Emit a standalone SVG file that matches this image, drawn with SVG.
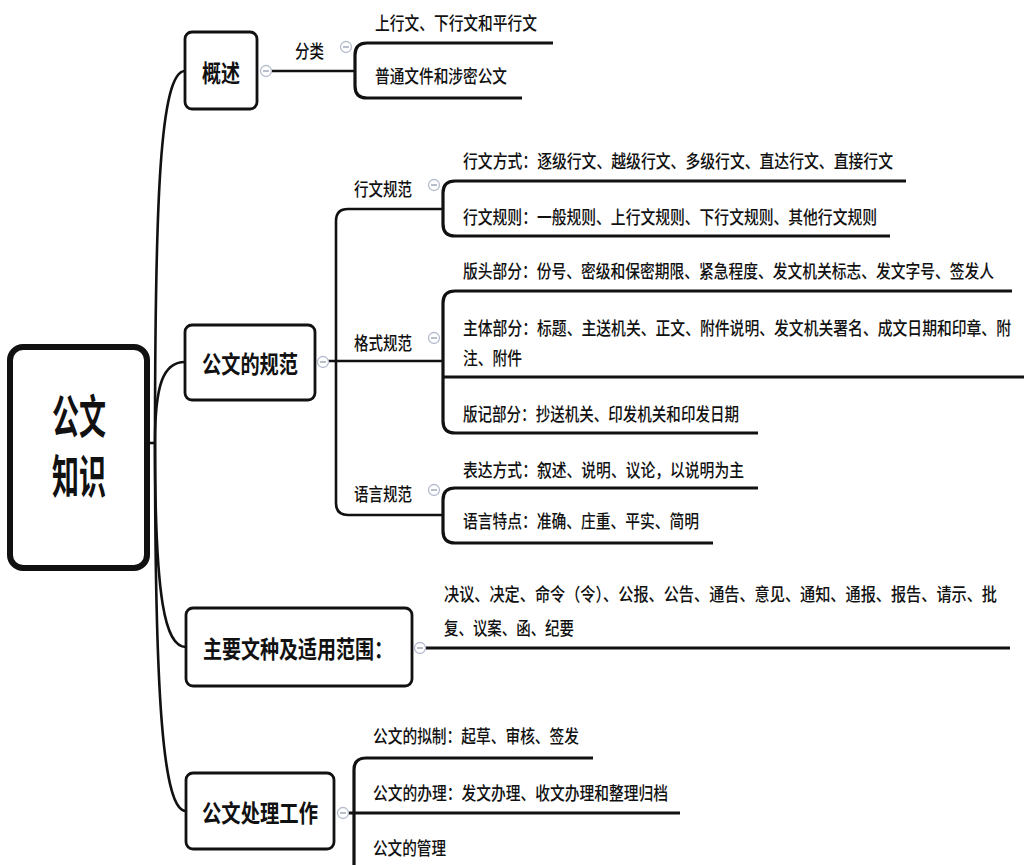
<svg xmlns="http://www.w3.org/2000/svg" width="1024" height="865" viewBox="0 0 1024 865">
<style>
text{font-family:"Noto Sans CJK SC","Noto Sans",sans-serif;fill:#111;dominant-baseline:central}
.leaf{font-size:15px;font-weight:500}
.l1{font-size:24px;font-weight:bold;text-anchor:middle}
.root{font-size:46px;font-weight:bold;text-anchor:middle}
.box{fill:#fff;stroke:#111;stroke-width:2.8}
.conn path{fill:none;stroke:#111;stroke-width:2.6}
.conn .ul{stroke-width:3.2}
.tog circle{fill:#fff;stroke:#b4bccd;stroke-width:1.3}
.tog path{stroke:#8a93a8;stroke-width:1.2}
</style>
<rect width="1024" height="865" fill="#fff"/>
<g id="connectors" class="conn">
<path d="M147,443 L155,443"/>
<path d="M155,443 C155,200 160,71 185,71"/>
<path d="M155,443 C155,385 163,362 185,362"/>
<path d="M155,443 C155,600 165,647 186,647"/>
<path d="M155,443 C155,700 163,811 186,811"/>
<path d="M271,71 L355,71"/>
<path class="ul" d="M553,43 L367,43 Q355,43 355,55 L355,86 Q355,98 367,98 L522,98"/>
<path d="M328,361 L443,361"/>
<path d="M443,209 L348,209 Q336,209 336,221 L336,503 Q336,515 348,515 L443,515"/>
<path class="ul" d="M906,181 L455,181 Q443,181 443,193 L443,224 Q443,236 455,236 L890,236"/>
<path class="ul" d="M1012,291 L455,291 Q443,291 443,303 L443,421 Q443,433 455,433 L758,433"/>
<path class="ul" d="M443,377 L1024,377"/>
<path class="ul" d="M758,488 L455,488 Q443,488 443,500 L443,531 Q443,543 455,543 L713,543"/>
<path class="ul" d="M425,648 L1010,648"/>
<path class="ul" d="M593,758 L366,758 Q354,758 354,770 L354,870"/>
<path class="ul" d="M348,813 L680,813"/>
</g>
<g id="root"><rect class="box" x="10" y="347" width="137" height="221" rx="13" style="stroke-width:6"/>
<text class="root" x="79" y="413" textLength="54" lengthAdjust="spacingAndGlyphs">公文</text>
<text class="root" x="79" y="473" textLength="54" lengthAdjust="spacingAndGlyphs">知识</text></g>
<g id="n-gaishu"><rect class="box" x="185" y="32" width="72" height="77" rx="7"/>
<text class="l1" x="221" y="71" textLength="38" lengthAdjust="spacingAndGlyphs">概述</text></g>
<g id="n-guifan"><rect class="box" x="185" y="325" width="130" height="75" rx="7"/>
<text class="l1" x="250" y="362" textLength="96" lengthAdjust="spacingAndGlyphs">公文的规范</text></g>
<g id="n-wenzhong"><rect class="box" x="186" y="608" width="226" height="78" rx="7"/>
<text class="l1" x="298" y="647" textLength="190" lengthAdjust="spacingAndGlyphs">主要文种及适用范围：</text></g>
<g id="n-chuli"><rect class="box" x="186" y="773" width="148" height="76" rx="7"/>
<text class="l1" x="260" y="811" textLength="116" lengthAdjust="spacingAndGlyphs">公文处理工作</text></g>
<g id="n-fenlei"><text class="leaf" transform="translate(295,50) scale(1,1.2)" textLength="29" lengthAdjust="spacingAndGlyphs">分类</text></g>
<g id="n-xingwen"><text class="leaf" transform="translate(354,188) scale(1,1.2)" textLength="58" lengthAdjust="spacingAndGlyphs">行文规范</text></g>
<g id="n-geshi"><text class="leaf" transform="translate(354,342) scale(1,1.2)" textLength="58" lengthAdjust="spacingAndGlyphs">格式规范</text></g>
<g id="n-yuyan"><text class="leaf" transform="translate(354,493) scale(1,1.2)" textLength="58" lengthAdjust="spacingAndGlyphs">语言规范</text></g>
<g id="leaves">
<text class="leaf" transform="translate(375,22) scale(1,1.2)" textLength="162" lengthAdjust="spacingAndGlyphs">上行文、下行文和平行文</text>
<text class="leaf" transform="translate(375,75) scale(1,1.2)" textLength="132" lengthAdjust="spacingAndGlyphs">普通文件和涉密公文</text>
<text class="leaf" transform="translate(463,160) scale(1,1.2)" textLength="430" lengthAdjust="spacingAndGlyphs">行文方式：逐级行文、越级行文、多级行文、直达行文、直接行文</text>
<text class="leaf" transform="translate(463,216) scale(1,1.2)" textLength="414" lengthAdjust="spacingAndGlyphs">行文规则：一般规则、上行文规则、下行文规则、其他行文规则</text>
<text class="leaf" transform="translate(463,270) scale(1,1.2)" textLength="531" lengthAdjust="spacingAndGlyphs">版头部分：份号、密级和保密期限、紧急程度、发文机关标志、发文字号、签发人</text>
<text class="leaf" transform="translate(463,327) scale(1,1.2)" textLength="548" lengthAdjust="spacingAndGlyphs">主体部分：标题、主送机关、正文、附件说明、发文机关署名、成文日期和印章、附</text>
<text class="leaf" transform="translate(463,357) scale(1,1.2)" textLength="59" lengthAdjust="spacingAndGlyphs">注、附件</text>
<text class="leaf" transform="translate(463,413) scale(1,1.2)" textLength="276" lengthAdjust="spacingAndGlyphs">版记部分：抄送机关、印发机关和印发日期</text>
<text class="leaf" transform="translate(463,469) scale(1,1.2)" textLength="281" lengthAdjust="spacingAndGlyphs">表达方式：叙述、说明、议论，以说明为主</text>
<text class="leaf" transform="translate(463,520) scale(1,1.2)" textLength="236" lengthAdjust="spacingAndGlyphs">语言特点：准确、庄重、平实、简明</text>
<text class="leaf" transform="translate(444,593) scale(1,1.2)" textLength="553" lengthAdjust="spacingAndGlyphs">决议、决定、命令（令）、公报、公告、通告、意见、通知、通报、报告、请示、批</text>
<text class="leaf" transform="translate(444,627) scale(1,1.2)" textLength="130" lengthAdjust="spacingAndGlyphs">复、议案、函、纪要</text>
<text class="leaf" transform="translate(373,735) scale(1,1.2)" textLength="206" lengthAdjust="spacingAndGlyphs">公文的拟制：起草、审核、签发</text>
<text class="leaf" transform="translate(373,792) scale(1,1.2)" textLength="295" lengthAdjust="spacingAndGlyphs">公文的办理：发文办理、收文办理和整理归档</text>
<text class="leaf" transform="translate(373,847) scale(1,1.2)" textLength="73" lengthAdjust="spacingAndGlyphs">公文的管理</text>
</g>
<g id="toggles" class="tog">
<g transform="translate(266,71)"><circle r="5.5"/><path d="M-3,0H3"/></g>
<g transform="translate(323,362)"><circle r="5.5"/><path d="M-3,0H3"/></g>
<g transform="translate(420,648)"><circle r="5.5"/><path d="M-3,0H3"/></g>
<g transform="translate(343,813)"><circle r="5.5"/><path d="M-3,0H3"/></g>
<g transform="translate(346,47)"><circle r="5.5"/><path d="M-3,0H3"/></g>
<g transform="translate(434,185)"><circle r="5.5"/><path d="M-3,0H3"/></g>
<g transform="translate(434,338)"><circle r="5.5"/><path d="M-3,0H3"/></g>
<g transform="translate(434,490)"><circle r="5.5"/><path d="M-3,0H3"/></g>
</g>
</svg>
